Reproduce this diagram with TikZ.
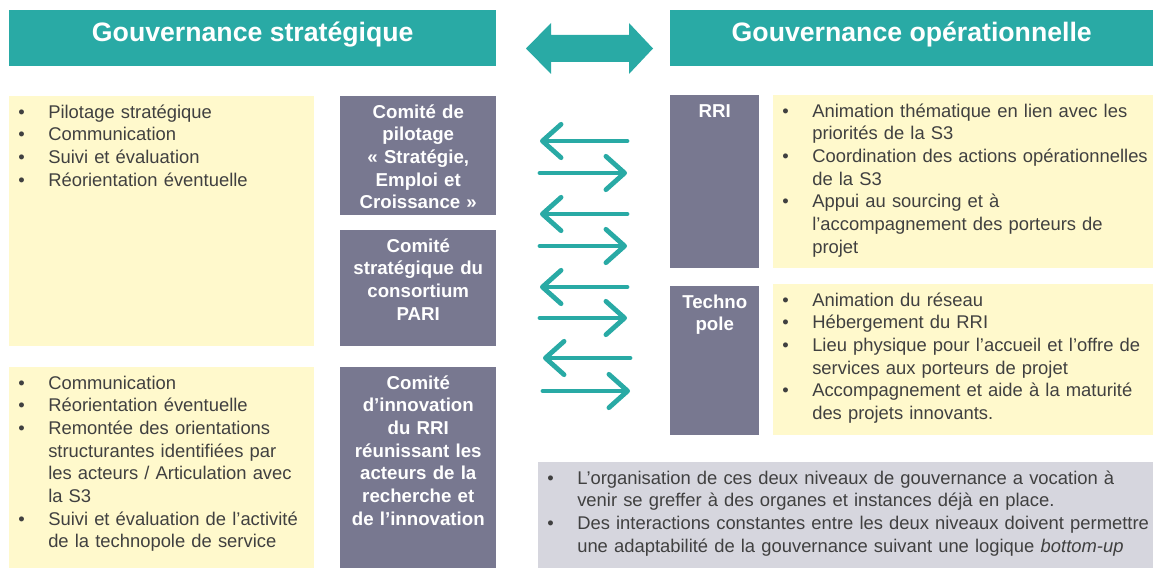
\documentclass[tikz,border=0pt]{standalone}
\usepackage{fontspec}
\setmainfont{Liberation Sans}
\usetikzlibrary{arrows.meta}
\definecolor{teal0}{RGB}{41,170,165}
\definecolor{slate}{RGB}{120,120,144}
\definecolor{pale}{RGB}{255,249,204}
\definecolor{mist}{RGB}{214,214,222}
\definecolor{ink}{RGB}{64,64,64}
\newcommand\bul[1]{\hyphenpenalty=10000\hangindent=29.25pt\hangafter=1\noindent\makebox[29.25pt][l]{\hspace{6.75pt}\textbullet}#1\par}
\tikzset{
  headbox/.style={fill=teal0, text=white, font=\fontsize{20}{24}\selectfont\bfseries, minimum height=42pt, inner sep=0pt, anchor=north west, text depth=10pt},
  listbox/.style={fill=pale, text=ink, font=\fontsize{13.8}{17}\selectfont, align=left, inner sep=0pt, anchor=north west, text height=16.5pt},
  notebox/.style={listbox, fill=mist},
  bodybox/.style={fill=slate, text=white, font=\fontsize{14}{17}\selectfont\bfseries, align=center, inner sep=0pt, anchor=north west, text height=16.5pt},
  flow/.style={teal0, line width=3.6pt, line cap=round, -{Straight Barb[length=14pt, width=25pt, round]}}
}
\begin{document}
\begin{tikzpicture}[x=0.75pt, y=-0.75pt]
  \useasboundingbox (0,0) rectangle (1153,570);
  \node[headbox, minimum width=365.25pt] (strat) at (9,10) {Gouvernance stratégique};
  \node[headbox, minimum width=362.25pt] (oper) at (670,10) {Gouvernance opérationnelle};
  \fill[teal0] (526,48.5) -- (551,23) -- (551,35) -- (629,35) -- (629,23) -- (653,48.5)
    -- (629,74) -- (629,62) -- (551,62) -- (551,74) -- cycle;

  \node[listbox, text width=228.75pt, text depth=171pt] (stratlist) at (9,96) {%
    \bul{Pilotage stratégique}
    \bul{Communication}
    \bul{Suivi et évaluation}
    \bul{Réorientation éventuelle}};
  \node[listbox, text width=228.75pt, text depth=134.25pt] (innolist) at (9,367) {%
    \bul{Communication}
    \bul{Réorientation éventuelle}
    \bul{Remontée des orientations\newline structurantes identifiées par\newline les acteurs / Articulation avec\newline la S3}
    \bul{Suivi et évaluation de l’activité\newline de la technopole de service}};

  \node[bodybox, text width=117pt, text depth=72.75pt] (copil) at (340,96)
    {Comité de\\pilotage\\« Stratégie,\\Emploi et\\Croissance »};
  \node[bodybox, text width=117pt, text depth=70.5pt] (cospar) at (340,230)
    {Comité\\stratégique du\\consortium\\PARI};
  \node[bodybox, text width=117pt, text depth=134.25pt] (coinno) at (340,367)
    {Comité\\d’innovation\\du RRI\\réunissant les\\acteurs de la\\recherche et\\de l’innovation};

  \node[bodybox, text width=66.75pt, text depth=113.25pt] (rri) at (670,95) {RRI};
  \node[bodybox, text width=66.75pt, text depth=95.25pt] (techno) at (670,286) {Techno\\pole};

  \node[listbox, text width=285pt, text depth=113.25pt] (rrilist) at (773,95) {%
    \bul{Animation thématique en lien avec les\newline priorités de la S3}
    \bul{Coordination des actions opérationnelles\newline de la S3}
    \bul{Appui au sourcing et à\newline l’accompagnement des porteurs de\newline projet}};
  \node[listbox, text width=285pt, text depth=96.75pt] (technolist) at (773,284) {%
    \bul{Animation du réseau}
    \bul{Hébergement du RRI}
    \bul{Lieu physique pour l’accueil et l’offre de\newline services aux porteurs de projet}
    \bul{Accompagnement et aide à la maturité\newline des projets innovants.}};

  \node[notebox, text width=461.25pt, text depth=63pt] (note) at (538,462) {%
    \bul{L’organisation de ces deux niveaux de gouvernance a vocation à\newline venir se greffer à des organes et instances déjà en place.}
    \bul{Des interactions constantes entre les deux niveaux doivent permettre\newline une adaptabilité de la gouvernance suivant une logique \textit{bottom-up}}};

  \draw[flow] (627,141) -- (540,141);
  \draw[flow] (540,173) -- (627,173);
  \draw[flow] (627,214) -- (540,214);
  \draw[flow] (540,246) -- (627,246);
  \draw[flow] (627,287) -- (540,287);
  \draw[flow] (540,318) -- (627,318);
  \draw[flow] (630,358) -- (543,358);
  \draw[flow] (543,391) -- (630,391);
\end{tikzpicture}
\end{document}
